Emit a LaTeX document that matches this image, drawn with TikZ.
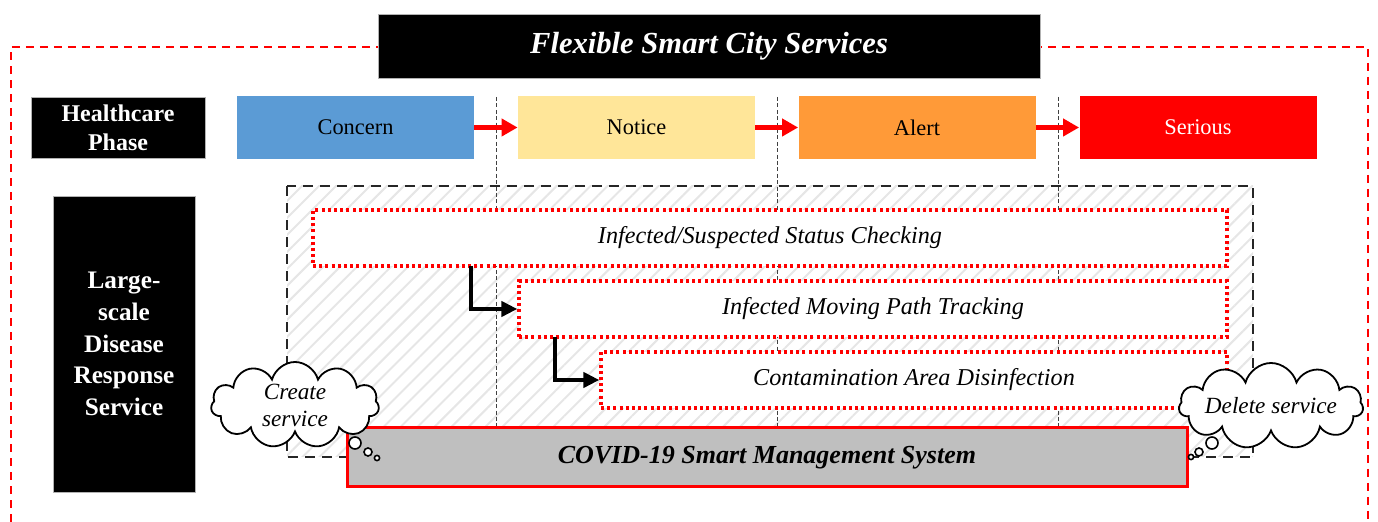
\documentclass[tikz,border=0pt]{standalone}
\usepackage{fontspec}
\setmainfont{Liberation Serif}
\usetikzlibrary{arrows.meta,shapes.symbols,patterns.meta}
\definecolor{cblue}{HTML}{5B9BD5}
\definecolor{cyellow}{HTML}{FFE699}
\definecolor{corange}{HTML}{FF9A38}
\definecolor{cred}{HTML}{FF0000}
\definecolor{cgray}{HTML}{BFBFBF}
\definecolor{hatchgray}{HTML}{E6E6E6}
\begin{document}
\begin{tikzpicture}[x=0.5pt,y=-0.5pt,
  blackbox/.style={fill=black,draw=gray!60,line width=0.3pt,text=white,font=\bfseries\fontsize{12}{14.5}\selectfont,align=center,inner sep=0pt},
  phasebox/.style={minimum width=118.5pt,minimum height=31.5pt,inner sep=0pt,font=\fontsize{11.2}{13}\selectfont},
  phasearrow/.style={draw=cred,line width=2.5pt,-{Triangle[length=8pt,width=8.5pt]}},
  svcbox/.style={draw=cred,fill=white,line width=1.6pt,dash pattern=on 1.5pt off 1.6pt,minimum height=28pt,inner sep=0pt,font=\itshape\fontsize{12.1}{14}\selectfont},
  elbow/.style={draw=black,line width=2pt,-{Triangle[length=8pt,width=7.5pt]}},
  phaseline/.style={draw=black!75,line width=0.45pt,dash pattern=on 2pt off 1.2pt},
  thought/.style={cloud,cloud puffs=11,cloud ignores aspect,draw=black,fill=white,line width=0.9pt,align=center,inner sep=0pt,font=\itshape\fontsize{11.6}{13.5}\selectfont},
  bubble/.style={circle,draw=black,fill=white,line width=0.8pt,inner sep=0pt}
]
\useasboundingbox (0,0) rectangle (1378,522);
% outer red dashed frame
\draw[cred,line width=1pt,dash pattern=on 4pt off 3pt] (11,522) -- (11,47) -- (1368,47) -- (1368,522);
% title
\node[fill=black,draw=gray!60,line width=0.3pt,text=white,minimum width=331pt,minimum height=32pt,inner sep=0pt,font=\bfseries\itshape\fontsize{15.3}{17}\selectfont] (title) at (709,46) {Flexible Smart City Services};
% left labels
\node[blackbox,minimum width=87pt,minimum height=30.5pt] (hp) at (118,127.5) {Healthcare\\Phase};
\node[blackbox,minimum width=71pt,minimum height=148pt,font=\bfseries\fontsize{12.6}{15.8}\selectfont] (ls) at (124,344) {Large-\\scale\\Disease\\Response\\Service};
% vertical phase separators
\coordinate (v1t) at (496,97); \coordinate (v1b) at (496,426);
\coordinate (v2t) at (777,97); \coordinate (v2b) at (777,426);
\coordinate (v3t) at (1058,97); \coordinate (v3b) at (1058,426);
% hatched area
\fill[pattern={Lines[angle=45,distance=6pt,line width=1pt]},pattern color=hatchgray] (287,186) rectangle (1253,457);
\draw[phaseline] (v1t) -- (v1b);
\draw[phaseline] (v2t) -- (v2b);
\draw[phaseline] (v3t) -- (v3b);
\draw[black!85,line width=1pt,dash pattern=on 5pt off 3.5pt] (287,186) rectangle (1253,457);
% phases
\node[phasebox,fill=cblue] (concern) at (355.5,127.5) {Concern};
\node[phasebox,fill=cyellow] (notice) at (636.5,127.5) {Notice};
\node[phasebox,fill=corange] (alert) at (917,127.5) {Alert};
\node[phasebox,fill=cred,text=white] (serious) at (1198,127.5) {Serious};
\draw[phasearrow] (concern.east) -- (notice.west);
\draw[phasearrow] (notice.east) -- (alert.west);
\draw[phasearrow] (alert.east) -- (serious.west);
% services
\node[svcbox,minimum width=457pt] (s1) at (770,238) {Infected/Suspected Status Checking};
\node[svcbox,minimum width=354pt] (s2) at (873,309) {Infected Moving Path Tracking};
\node[svcbox,minimum width=313pt] (s3) at (914,380) {Contamination Area Disinfection};
\coordinate (e1) at (471,266);
\coordinate (e2) at (555,337);
\draw[elbow] (e1) |- (s2.west);
\draw[elbow] (e2) |- (s3.west);
% covid system
\node[draw=cred,fill=cgray,line width=1.5pt,minimum width=420pt,minimum height=29.5pt,inner sep=0pt,font=\bfseries\itshape\fontsize{13}{15}\selectfont] (covid) at (767,457.5) {COVID-19 Smart Management System};
% clouds
\node[thought,minimum width=84pt,minimum height=43pt] (create) at (295,405) {Create\\service};
\node[bubble,minimum size=6pt] (cb1) at (355,443) {};
\node[bubble,minimum size=4pt] (cb2) at (368,452) {};
\node[bubble,minimum size=2.6pt] (cb3) at (377,458) {};
\node[thought,minimum width=82pt,minimum height=43pt] (delete) at (1271,406) {Delete service};
\node[bubble,minimum size=6pt] (db1) at (1212,443) {};
\node[bubble,minimum size=4pt] (db2) at (1199,452) {};
\node[bubble,minimum size=2.6pt] (db3) at (1191,457) {};
\end{tikzpicture}
\end{document}
